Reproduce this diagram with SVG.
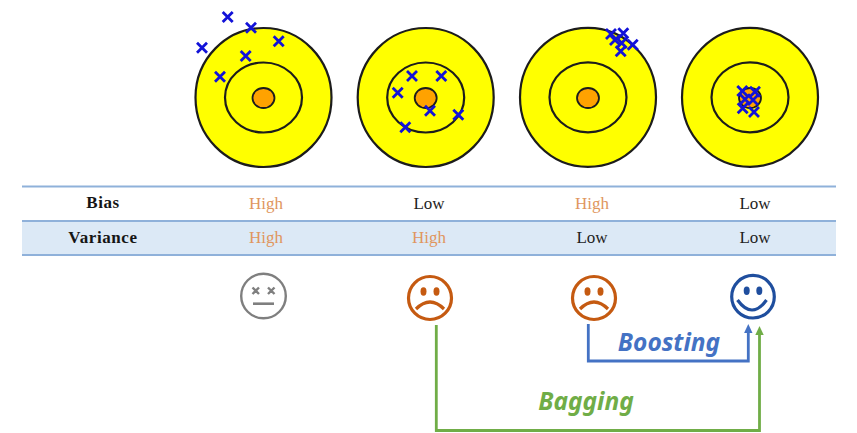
<svg xmlns="http://www.w3.org/2000/svg" width="857" height="433" viewBox="0 0 857 433">
<style>
.o{fill:#ffff00;stroke:#1c1c1c;stroke-width:2.2}
.m{fill:none;stroke:#1c1c1c;stroke-width:2.2}
.c{fill:#ffa200;stroke:#1c1c1c;stroke-width:1.8}
.x{fill:none;stroke:#1212d8;stroke-width:2.8}
.t{font-family:"Liberation Serif",serif;font-size:17px;text-anchor:middle}
.h{fill:#e0965e}.l{fill:#1e1e1e}.b{font-weight:bold;fill:#151515;letter-spacing:.6px}
.r{stroke:#8fb1da;stroke-width:2;fill:none}
.lab{font-family:"Noto Sans","Liberation Sans",sans-serif;font-weight:bold;font-style:italic;font-size:24.5px;text-anchor:middle}
.sad{fill:none;stroke:#c55a11;stroke-width:3.2}
.sadf{fill:#c55a11}
</style>
<defs>
<path id="x" d="M-5-5L5 5M-5 5L5-5" class="x"/>
<marker id="ab" markerUnits="userSpaceOnUse" markerWidth="10" markerHeight="10" refX="0" refY="4.500" orient="auto"><path d="M0 0.300L9 4.500L0 8.700z" fill="#4472c4"/></marker>
<marker id="ag" markerUnits="userSpaceOnUse" markerWidth="10" markerHeight="10" refX="0" refY="4.500" orient="auto"><path d="M0 0.300L9 4.500L0 8.700z" fill="#70ad47"/></marker>
</defs>
<g id="target-1">
<ellipse class="o" cx="263.5" cy="97.5" rx="68" ry="69.5"/><ellipse class="m" cx="263.5" cy="97.5" rx="38.5" ry="35"/><ellipse class="c" cx="263.5" cy="98" rx="11" ry="10"/>
<use href="#x" x="227.7" y="17"/><use href="#x" x="251" y="27.7"/><use href="#x" x="278.7" y="41.3"/><use href="#x" x="202" y="47.7"/><use href="#x" x="245.7" y="56"/><use href="#x" x="220" y="76.7"/>
</g>
<g id="target-2">
<ellipse class="o" cx="425.7" cy="97.5" rx="68" ry="69.5"/><ellipse class="m" cx="425.7" cy="97.5" rx="38.5" ry="35"/><ellipse class="c" cx="425.7" cy="98" rx="11" ry="10"/>
<use href="#x" x="412" y="76"/><use href="#x" x="441.3" y="76"/><use href="#x" x="397.7" y="92.7"/><use href="#x" x="430" y="110.7"/><use href="#x" x="458.3" y="114.7"/><use href="#x" x="405.3" y="127.3"/>
</g>
<g id="target-3">
<ellipse class="o" cx="588" cy="97.3" rx="68" ry="69.5"/><ellipse class="m" cx="588" cy="97.3" rx="38.5" ry="35"/><ellipse class="c" cx="588" cy="98" rx="11" ry="10"/>
<use href="#x" x="611" y="34"/><use href="#x" x="623.3" y="33.3"/><use href="#x" x="615" y="40"/><use href="#x" x="621.7" y="43"/><use href="#x" x="632.7" y="44.7"/><use href="#x" x="620.7" y="51.3"/>
</g>
<g id="target-4">
<ellipse class="o" cx="750" cy="97.3" rx="68" ry="69.5"/><ellipse class="m" cx="750" cy="97.3" rx="38.5" ry="35"/><ellipse class="c" cx="750" cy="98" rx="11" ry="10"/>
<use href="#x" x="742.3" y="91"/><use href="#x" x="755" y="91.7"/><use href="#x" x="745" y="99.3"/><use href="#x" x="753" y="100"/><use href="#x" x="742.7" y="108.3"/><use href="#x" x="754" y="112"/>
</g>
<g id="table">
<rect x="22" y="221" width="814" height="34" fill="#dce9f6"/>
<path class="r" d="M22 186.5H836M22 221H836M22 255H836"/>
<text class="t b" x="103" y="208">Bias</text><text class="t h" x="266" y="209">High</text><text class="t l" x="429" y="209">Low</text><text class="t h" x="592" y="209">High</text><text class="t l" x="755" y="209">Low</text>
<text class="t b" x="103" y="243">Variance</text><text class="t h" x="266" y="243">High</text><text class="t h" x="429" y="243">High</text><text class="t l" x="592" y="243">Low</text><text class="t l" x="755" y="243">Low</text>
</g>
<g id="face-neutral" fill="none" stroke="#7f7f7f" stroke-width="2.4">
<circle cx="263.5" cy="296" r="22.3"/>
<path d="M252.500 287.500L259 294M259 287.500L252.500 294M268 287.500L274.500 294M274.500 287.500L268 294"/>
<path d="M253 303.700H274" stroke-width="2.600"/>
</g>
<g id="face-sad-1">
<circle class="sad" cx="430" cy="298" r="21.5"/>
<ellipse class="sadf" cx="423.5" cy="291.5" rx="3" ry="4.200"/><ellipse class="sadf" cx="436.5" cy="291.5" rx="3" ry="4.200"/>
<path class="sad" d="M416 309Q430 295 444 309"/>
</g>
<g id="face-sad-2">
<circle class="sad" cx="594" cy="298" r="21.5"/>
<ellipse class="sadf" cx="587.5" cy="291.5" rx="3" ry="4.200"/><ellipse class="sadf" cx="600.5" cy="291.5" rx="3" ry="4.200"/>
<path class="sad" d="M580 309Q594 295 608 309"/>
</g>
<g id="face-happy" fill="none" stroke="#1f4e9e" stroke-width="3.200">
<circle cx="753" cy="296.700" r="21.300"/>
<ellipse cx="746.700" cy="290.700" rx="3" ry="4.200" fill="#1f4e9e" stroke="none"/><ellipse cx="759.300" cy="290.700" rx="3" ry="4.200" fill="#1f4e9e" stroke="none"/>
<path d="M737.500 300Q752 320 766.500 300"/>
</g>
<g id="connectors" fill="none" stroke-width="2.800">
<path d="M588.300 324V361H748.300V333" stroke="#4472c4" marker-end="url(#ab)"/>
<path d="M436.300 325V430.500H759.500V335" stroke="#70ad47" marker-end="url(#ag)"/>
</g>
<text class="lab" x="669" y="351" fill="#4472c4">Boosting</text>
<text class="lab" x="586" y="410" fill="#70ad47">Bagging</text>
</svg>
